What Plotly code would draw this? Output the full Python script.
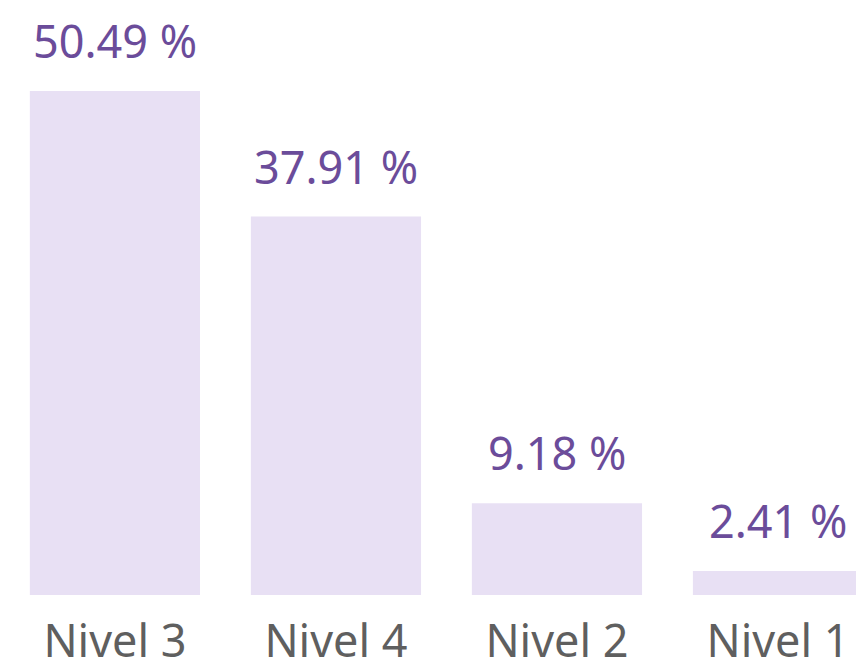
import plotly.graph_objects as go

categories = ["Nivel 3", "Nivel 4", "Nivel 2", "Nivel 1"]
values = [50.49, 37.91, 9.18, 2.41]
labels = ["50.49 %", "37.91 %", "9.18 %", "2.41 %"]

FONT = "Noto Sans"
fig = go.Figure()
fig.add_trace(go.Bar(
    x=categories, y=values,
    marker=dict(color="#E8E0F4", line=dict(width=0)),
    width=0.77,
    hoverinfo="skip",
))
for c, v, t in zip(categories, values, labels):
    fig.add_annotation(x=c, y=v, text=t, showarrow=False, yanchor="bottom",
                       yshift=18, font=dict(family=FONT, size=45, color="#6B4C9A"))

fig.update_layout(
    width=856, height=665,
    margin=dict(l=0, r=0, t=0, b=70),
    paper_bgcolor="white", plot_bgcolor="white",
    showlegend=False,
    xaxis=dict(range=[-0.52, 3.353], showgrid=False, zeroline=False, showline=False,
               automargin=False,
               ticks="outside", ticklen=7, tickcolor="rgba(0,0,0,0)",
               tickfont=dict(family=FONT, size=45, color="#5F5F5F")),
    yaxis=dict(range=[0, 59.6], visible=False, automargin=False),
)
fig.write_html("out.html", config={"displayModeBar": False},
               post_script="document.body.style.margin='0';")
